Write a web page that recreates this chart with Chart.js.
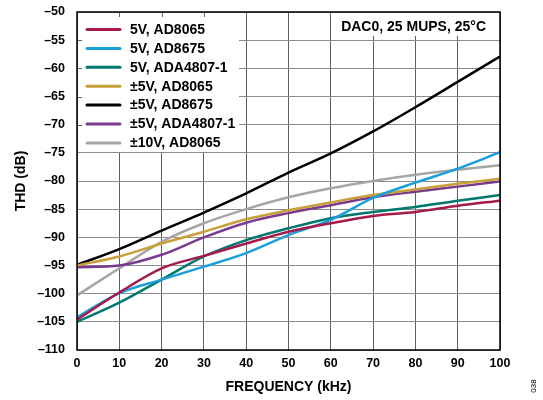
<!DOCTYPE html>
<html>
<head>
<meta charset="utf-8">
<script src="https://cdn.jsdelivr.net/npm/chart.js@4/dist/chart.umd.min.js"></script>
<style>
  html, body { margin: 0; padding: 0; background: #fff; }
  #wrap { width: 543px; height: 400px; position: relative; }
</style>
</head>
<body>
<div id="wrap"><canvas id="thdChart" width="543" height="400"></canvas></div>
<script>
// Frequency axis (kHz)
const freqKHz = [0, 10, 20, 30, 40, 50, 60, 70, 80, 90, 100];

// THD (dB) per configuration
const thd5vAD8065 = [-104.6, -99.8, -95.5, -93.3, -91.1, -89.0, -87.5, -86.2, -85.5, -84.4, -83.5];
const thd5vAD8675 = [-104.2, -99.9, -97.5, -95.2, -92.8, -89.6, -86.9, -83.0, -80.3, -77.8, -74.9];
const thd5vADA4807 = [-105.0, -101.6, -97.5, -93.4, -90.5, -88.4, -86.6, -85.5, -84.6, -83.5, -82.5];
const thdPm5vAD8065 = [-95.0, -93.4, -91.1, -89.0, -86.8, -85.2, -83.8, -82.5, -81.5, -80.5, -79.6];
const thdPm5vAD8675 = [-94.9, -92.1, -88.8, -85.6, -82.2, -78.5, -75.1, -71.2, -66.9, -62.4, -57.9];
const thdPm5vADA4807 = [-95.3, -95.0, -93.1, -90.0, -87.4, -85.7, -84.3, -82.9, -81.9, -81.0, -80.1];
const thdPm10vAD8065 = [-100.3, -95.5, -90.8, -87.5, -85.0, -82.9, -81.3, -80.0, -78.9, -78.0, -77.2];

const seriesLabels = [
  "5V, AD8065", "5V, AD8675", "5V, ADA4807-1",
  "±5V, AD8065", "±5V, AD8675", "±5V, ADA4807-1", "±10V, AD8065",
];
const seriesData = [
  thd5vAD8065, thd5vAD8675, thd5vADA4807,
  thdPm5vAD8065, thdPm5vAD8675, thdPm5vADA4807, thdPm10vAD8065,
];
const seriesColors = ["#A6194B", "#1A9FDB", "#00776F", "#C8A03A", "#000000", "#7A3B8F", "#A6A6A6"];

const xTicks = [0, 10, 20, 30, 40, 50, 60, 70, 80, 90, 100];
const yTicks = [-110, -105, -100, -95, -90, -85, -80, -75, -70, -65, -60, -55, -50];

const FONT = "'Liberation Sans', Arial, sans-serif";

// White legend box, condition note, inner tick marks and the frame
const overlayPlugin = {
  id: "overlay",
  beforeDatasetsDraw(chart) {
    const { ctx, chartArea: a, scales } = chart;
    const xs = scales.x, ys = scales.y;
    ctx.save();

    // legend panel (covers grid)
    const legR = 239, legB = 152;
    ctx.fillStyle = "#fff";
    ctx.fillRect(a.left + 1, a.top + 1, legR - a.left - 1, legB - a.top - 1);
    // note panel
    ctx.fillRect(332, a.top + 1, a.right - 332 - 1, 35 - a.top);

    // inward ticks hidden by the legend panel
    ctx.strokeStyle = "#666";
    ctx.lineWidth = 1;
    [10, 20, 30].forEach((v) => {
      const px = Math.round(xs.getPixelForValue(v)) + 0.5;
      ctx.beginPath();
      ctx.moveTo(px, a.top);
      ctx.lineTo(px, a.top + 5);
      ctx.stroke();
    });
    [-55, -60, -65, -70].forEach((v) => {
      const py = Math.round(ys.getPixelForValue(v)) + 0.5;
      ctx.beginPath();
      ctx.moveTo(a.left, py);
      ctx.lineTo(a.left + 5, py);
      ctx.stroke();
    });

    // legend entries
    ctx.font = "bold 14px " + FONT;
    ctx.textBaseline = "middle";
    ctx.textAlign = "left";
    chart.data.datasets.forEach((ds, i) => {
      const y = 29.5 + i * 18.9;
      ctx.strokeStyle = ds.borderColor;
      ctx.lineWidth = 3;
      ctx.lineCap = "round";
      ctx.beginPath();
      ctx.moveTo(87, y);
      ctx.lineTo(120, y);
      ctx.stroke();
      ctx.fillStyle = "#000";
      ctx.fillText(ds.label, 130, y + 0.5);
    });

    // condition note
    ctx.textAlign = "right";
    ctx.fillText("DAC0, 25 MUPS, 25°C", a.right - 14, 27);
    ctx.restore();
  },
  afterDatasetsDraw(chart) {
    const { ctx, chartArea: a } = chart;
    ctx.save();
    ctx.strokeStyle = "#000";
    ctx.lineWidth = 1.5;
    ctx.strokeRect(a.left, a.top, a.right - a.left, a.bottom - a.top);
    // figure number
    ctx.translate(534, 386);
    ctx.rotate(-Math.PI / 2);
    ctx.font = "8px " + FONT;
    ctx.fillStyle = "#000";
    ctx.textAlign = "center";
    ctx.textBaseline = "middle";
    ctx.fillText("038", 0, 0);
    ctx.restore();
  },
};

new Chart(document.getElementById("thdChart"), {
  type: "line",
  data: {
    labels: freqKHz,
    datasets: seriesLabels.map((label, i) => ({
      label: label,
      data: seriesData[i].map((v, j) => ({ x: freqKHz[j], y: v })),
      borderColor: seriesColors[i],
      backgroundColor: seriesColors[i],
      borderWidth: 2.5,
      pointRadius: 0,
      cubicInterpolationMode: "monotone",
      fill: false,
    })),
  },
  options: {
    responsive: false,
    animation: false,
    layout: { padding: { top: 12, right: 43, left: 0, bottom: 0 } },
    plugins: {
      legend: { display: false },
      tooltip: { enabled: false },
    },
    scales: {
      x: {
        type: "linear",
        min: 0,
        max: 100,
        afterBuildTicks: (s) => { s.ticks = xTicks.map((v) => ({ value: v })); },
        afterFit: (s) => { s.height = 50; s.paddingLeft = 0; s.paddingRight = 0; },
        grid: { color: "#5f5f5f", lineWidth: 1, drawTicks: false },
        border: { display: false },
        ticks: {
          padding: 6,
          color: "#000",
          font: { family: FONT, size: 12.5, weight: "bold" },
          maxRotation: 0,
        },
        title: {
          display: true,
          text: "FREQUENCY (kHz)",
          color: "#000",
          font: { family: FONT, size: 14, weight: "bold" },
          padding: { top: 0, bottom: 4 },
        },
      },
      y: {
        min: -110,
        max: -50,
        afterBuildTicks: (s) => { s.ticks = yTicks.map((v) => ({ value: v })); },
        afterFit: (s) => { s.width = 77; s.paddingTop = 0; s.paddingBottom = 0; },
        grid: { color: "#8c8c8c", lineWidth: 1, drawTicks: false },
        border: { display: false },
        ticks: {
          padding: 12,
          color: "#000",
          font: { family: FONT, size: 12.5, weight: "bold" },
          callback: (v) => (v < 0 ? "\u2013" + Math.abs(v) : String(v)),
        },
        title: {
          display: true,
          text: "THD (dB)",
          color: "#000",
          font: { family: FONT, size: 14, weight: "bold" },
          padding: { top: 12.6, bottom: 0 },
        },
      },
    },
  },
  plugins: [overlayPlugin],
});
</script>
</body>
</html>
